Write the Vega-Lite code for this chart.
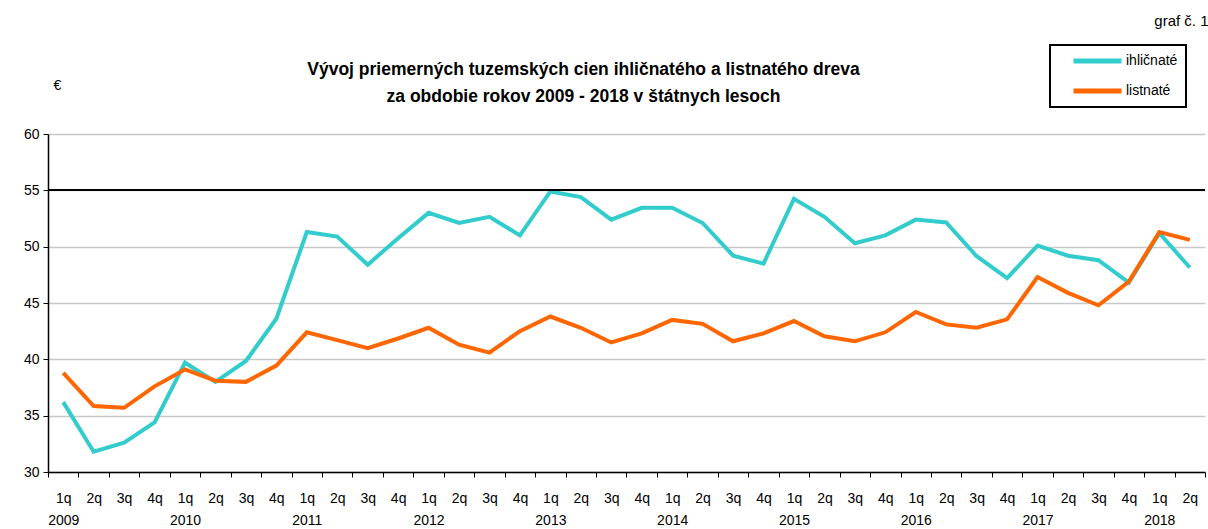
{
  "$schema": "https://vega.github.io/schema/vega-lite/v6.json",
  "autosize": "none",
  "width": 1157,
  "height": 338,
  "padding": {"left": 48, "top": 134, "right": 3, "bottom": 57},
  "background": "white",
  "config": {
    "font": "Liberation Sans Narrow, Liberation Sans, Arial",
    "view": {"stroke": null},
    "axis": {"labelFont": "Liberation Sans Narrow, Liberation Sans, Arial", "titleFont": "Liberation Sans Narrow, Liberation Sans, Arial"}
  },
  "title": {
    "text": ["Vývoj priemerných tuzemských cien ihličnatého a listnatého dreva", "za obdobie rokov 2009 - 2018 v štátnych lesoch"],
    "font": "Liberation Sans Narrow, Liberation Sans, Arial",
    "fontSize": 17.5,
    "fontWeight": "bold",
    "color": "black",
    "anchor": "middle",
    "dx": -43,
    "dy": 92,
    "lineHeight": 27,
    "offset": 0
  },
  "data": {
    "values": [
      {"period": "2009-1q", "series": "ihličnaté", "price": 36.2},
      {"period": "2009-2q", "series": "ihličnaté", "price": 31.8},
      {"period": "2009-3q", "series": "ihličnaté", "price": 32.6},
      {"period": "2009-4q", "series": "ihličnaté", "price": 34.4},
      {"period": "2010-1q", "series": "ihličnaté", "price": 39.7},
      {"period": "2010-2q", "series": "ihličnaté", "price": 38.0},
      {"period": "2010-3q", "series": "ihličnaté", "price": 39.85},
      {"period": "2010-4q", "series": "ihličnaté", "price": 43.6},
      {"period": "2011-1q", "series": "ihličnaté", "price": 51.3},
      {"period": "2011-2q", "series": "ihličnaté", "price": 50.9},
      {"period": "2011-3q", "series": "ihličnaté", "price": 48.4},
      {"period": "2011-4q", "series": "ihličnaté", "price": 50.75},
      {"period": "2012-1q", "series": "ihličnaté", "price": 53.0},
      {"period": "2012-2q", "series": "ihličnaté", "price": 52.1},
      {"period": "2012-3q", "series": "ihličnaté", "price": 52.65},
      {"period": "2012-4q", "series": "ihličnaté", "price": 51.0},
      {"period": "2013-1q", "series": "ihličnaté", "price": 54.9},
      {"period": "2013-2q", "series": "ihličnaté", "price": 54.4},
      {"period": "2013-3q", "series": "ihličnaté", "price": 52.4},
      {"period": "2013-4q", "series": "ihličnaté", "price": 53.45},
      {"period": "2014-1q", "series": "ihličnaté", "price": 53.45},
      {"period": "2014-2q", "series": "ihličnaté", "price": 52.1},
      {"period": "2014-3q", "series": "ihličnaté", "price": 49.2},
      {"period": "2014-4q", "series": "ihličnaté", "price": 48.5},
      {"period": "2015-1q", "series": "ihličnaté", "price": 54.25},
      {"period": "2015-2q", "series": "ihličnaté", "price": 52.65},
      {"period": "2015-3q", "series": "ihličnaté", "price": 50.3},
      {"period": "2015-4q", "series": "ihličnaté", "price": 51.0},
      {"period": "2016-1q", "series": "ihličnaté", "price": 52.4},
      {"period": "2016-2q", "series": "ihličnaté", "price": 52.15},
      {"period": "2016-3q", "series": "ihličnaté", "price": 49.15},
      {"period": "2016-4q", "series": "ihličnaté", "price": 47.2},
      {"period": "2017-1q", "series": "ihličnaté", "price": 50.1},
      {"period": "2017-2q", "series": "ihličnaté", "price": 49.2},
      {"period": "2017-3q", "series": "ihličnaté", "price": 48.8},
      {"period": "2017-4q", "series": "ihličnaté", "price": 46.8},
      {"period": "2018-1q", "series": "ihličnaté", "price": 51.2},
      {"period": "2018-2q", "series": "ihličnaté", "price": 48.15},
      {"period": "2009-1q", "series": "listnaté", "price": 38.8},
      {"period": "2009-2q", "series": "listnaté", "price": 35.85},
      {"period": "2009-3q", "series": "listnaté", "price": 35.7},
      {"period": "2009-4q", "series": "listnaté", "price": 37.6},
      {"period": "2010-1q", "series": "listnaté", "price": 39.1},
      {"period": "2010-2q", "series": "listnaté", "price": 38.1},
      {"period": "2010-3q", "series": "listnaté", "price": 38.0},
      {"period": "2010-4q", "series": "listnaté", "price": 39.45},
      {"period": "2011-1q", "series": "listnaté", "price": 42.4},
      {"period": "2011-2q", "series": "listnaté", "price": 41.7},
      {"period": "2011-3q", "series": "listnaté", "price": 41.0},
      {"period": "2011-4q", "series": "listnaté", "price": 41.85},
      {"period": "2012-1q", "series": "listnaté", "price": 42.8},
      {"period": "2012-2q", "series": "listnaté", "price": 41.3},
      {"period": "2012-3q", "series": "listnaté", "price": 40.6},
      {"period": "2012-4q", "series": "listnaté", "price": 42.5},
      {"period": "2013-1q", "series": "listnaté", "price": 43.8},
      {"period": "2013-2q", "series": "listnaté", "price": 42.8},
      {"period": "2013-3q", "series": "listnaté", "price": 41.5},
      {"period": "2013-4q", "series": "listnaté", "price": 42.3},
      {"period": "2014-1q", "series": "listnaté", "price": 43.5},
      {"period": "2014-2q", "series": "listnaté", "price": 43.15},
      {"period": "2014-3q", "series": "listnaté", "price": 41.6},
      {"period": "2014-4q", "series": "listnaté", "price": 42.3},
      {"period": "2015-1q", "series": "listnaté", "price": 43.4},
      {"period": "2015-2q", "series": "listnaté", "price": 42.05},
      {"period": "2015-3q", "series": "listnaté", "price": 41.6},
      {"period": "2015-4q", "series": "listnaté", "price": 42.4},
      {"period": "2016-1q", "series": "listnaté", "price": 44.2},
      {"period": "2016-2q", "series": "listnaté", "price": 43.1},
      {"period": "2016-3q", "series": "listnaté", "price": 42.8},
      {"period": "2016-4q", "series": "listnaté", "price": 43.55},
      {"period": "2017-1q", "series": "listnaté", "price": 47.3},
      {"period": "2017-2q", "series": "listnaté", "price": 45.9},
      {"period": "2017-3q", "series": "listnaté", "price": 44.8},
      {"period": "2017-4q", "series": "listnaté", "price": 46.9},
      {"period": "2018-1q", "series": "listnaté", "price": 51.3},
      {"period": "2018-2q", "series": "listnaté", "price": 50.6}
    ]
  },
  "resolve": {"axis": {"y": "independent"}},
  "layer": [
    {
      "mark": {"type": "line", "strokeWidth": 4, "strokeJoin": "miter"},
      "encoding": {
        "x": {
          "field": "period",
          "type": "ordinal",
          "sort": null,
          "scale": {"paddingInner": 0, "paddingOuter": 0},
          "axis": {
            "title": null,
            "tickBand": "extent",
            "domainColor": "black",
            "domainWidth": 1.5,
            "tickColor": "black",
            "tickSize": 5,
            "labelAngle": 0,
            "labelColor": "black",
            "labelFontSize": 14,
            "labelPadding": 25,
            "labelLineHeight": 22,
            "labelBaseline": "alphabetic",
            "labelExpr": "datum.value ? split(substring(datum.value, 5) + (substring(datum.value, 5) == '1q' ? '|' + substring(datum.value, 0, 4) : ''), '|') : ''"
          }
        },
        "y": {
          "field": "price",
          "type": "quantitative",
          "scale": {"domain": [30, 60], "nice": false, "zero": false},
          "axis": {
            "values": [30, 35, 40, 45, 50, 55, 60],
            "grid": true,
            "gridColor": "#c8c8c8",
            "gridWidth": 1.5,
            "domainColor": "black",
            "domainWidth": 1.5,
            "tickColor": "black",
            "tickSize": 5,
            "labelColor": "black",
            "labelFontSize": 14,
            "labelPadding": 4,
            "title": "€",
            "titleAngle": 0,
            "titleX": 9,
            "titleY": -49,
            "titleAlign": "center",
            "titleBaseline": "middle",
            "titleFontWeight": "normal",
            "titleFontSize": 14,
            "titleColor": "black"
          }
        },
        "color": {
          "field": "series",
          "type": "nominal",
          "scale": {"domain": ["ihličnaté", "listnaté"], "range": ["#33CCCC", "#FF6600"]},
          "legend": {
            "title": null,
            "orient": "none",
            "legendX": 1002,
            "legendY": -89,
            "strokeColor": "black",
            "padding": 8,
            "rowPadding": 14,
            "clipHeight": 16,
            "symbolOffset": 13,
            "symbolType": "stroke",
            "symbolSize": 2304,
            "symbolStrokeWidth": 5,
            "labelFontSize": 14,
            "labelColor": "black",
            "labelOffset": 2,
            "labelExpr": "datum.label + '       '",
            "labelFont": "Liberation Sans Narrow, Liberation Sans, Arial",
            "encode": {"legend": {"update": {"strokeWidth": {"value": 2}}}}
          }
        }
      }
    },
    {
      "mark": {"type": "rule", "color": "black", "strokeWidth": 1.5},
      "encoding": {
        "y": {
          "datum": 55,
          "type": "quantitative",
          "axis": {
            "orient": "right",
            "labels": false,
            "ticks": false,
            "domain": false,
            "grid": false,
            "title": "graf č. 1",
            "titleAngle": 0,
            "titleX": 3,
            "titleY": -109,
            "titleAlign": "right",
            "titleBaseline": "alphabetic",
            "titleFontWeight": "normal",
            "titleFontSize": 15,
            "titleColor": "black"
          }
        }
      }
    }
  ]
}
